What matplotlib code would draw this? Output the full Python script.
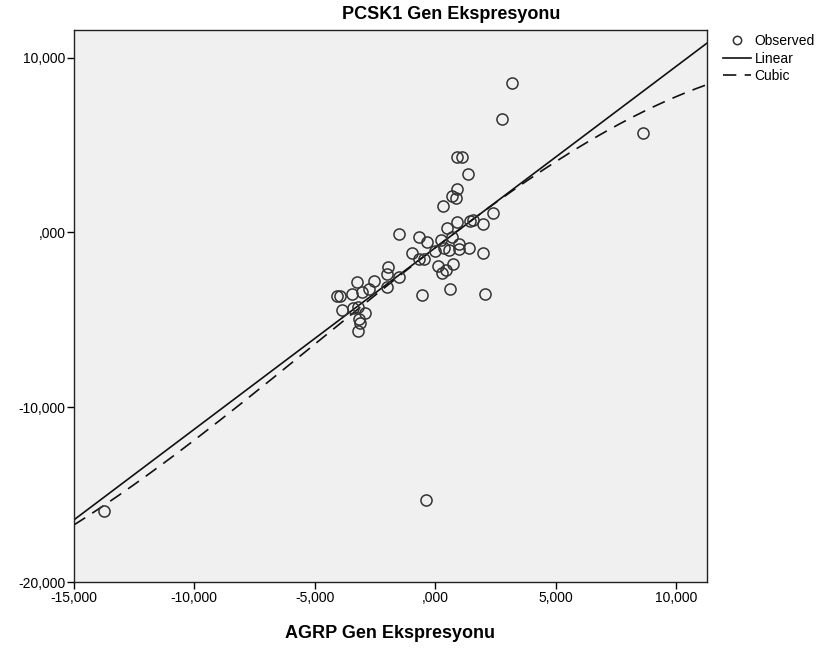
import matplotlib
matplotlib.use("Agg")
import matplotlib.pyplot as plt
import numpy as np
from matplotlib.ticker import FuncFormatter

plt.rcParams['font.family'] = ['Liberation Sans', 'DejaVu Sans']

# observed points (AGRP, PCSK1)
agrp = [3.21, 2.79, 0.90, 1.11, 1.38, 0.90, 0.69, 0.86, 0.32, 2.39,
        -1.50, 0.48, 0.90, 1.45, 1.56, 1.98, -0.66, -0.35, 0.25, 0.69,
        -0.97, 0.00, 0.38, 0.58, 1.01, 1.01, 1.42, 1.98, -0.67, -0.46,
        0.11, 0.45, 0.73, 0.30, -0.53, 0.61, 2.07, -1.50, -1.94, -2.01,
        -2.01, -2.54, -3.23, -2.75, -3.02, -3.46, -4.09, -3.95, -3.88, -3.40,
        -3.19, -2.91, -3.15, -3.12, -3.19, -13.74, -0.39, 8.62]
pcsk1 = [8.56, 6.49, 4.30, 4.30, 3.34, 2.47, 2.10, 1.95, 1.51, 1.13,
         -0.09, 0.27, 0.62, 0.66, 0.71, 0.47, -0.27, -0.56, -0.43, -0.24,
         -1.19, -1.04, -0.90, -1.00, -0.67, -0.96, -0.90, -1.19, -1.51, -1.51,
         -1.93, -2.14, -1.80, -2.33, -3.59, -3.23, -3.53, -2.53, -1.99, -2.37,
         -3.10, -2.75, -2.85, -3.23, -3.42, -3.51, -3.63, -3.61, -4.43, -4.33,
         -4.27, -4.62, -4.96, -5.19, -5.63, -15.95, -15.29, 5.70]

# fitted model coefficients (b0, b1, b2, b3)
linear_coef = [-0.881, 1.0366]
cubic_coef = [-0.881, 1.0627, -0.01175, -0.0008134]

x_ticks = [-15, -10, -5, 0, 5, 10]
y_ticks = [-20, -10, 0, 10]


def fmt(v, pos):
    s = f"{v:.3f}".replace('.', ',')
    if s.startswith('0,'):
        s = s[1:]
    if s.startswith('-0,'):
        s = s[2:]
    return s


fig = plt.figure(figsize=(8.35, 6.53), dpi=100)
ax = fig.add_axes([0.0886, 0.1083, 0.7578, 0.8457])
ax.set_facecolor('#f0f0f0')

xs = np.linspace(-15, 11.28, 300)
ylin = linear_coef[0] + linear_coef[1] * xs
ycub = cubic_coef[0] + cubic_coef[1] * xs + cubic_coef[2] * xs**2 + cubic_coef[3] * xs**3

ax.plot(agrp, pcsk1, 'o', mfc='none', mec='#333333', mew=1.1, ms=8,
        label='Observed', zorder=3)
ax.plot(xs, ylin, color='#111111', lw=1.2, label='Linear')
ax.plot(xs, ycub, color='#111111', lw=1.2, linestyle=(0, (8, 5)), label='Cubic')

ax.set_xlim(-15, 11.28)
ax.set_ylim(-20, 11.57)
ax.set_xticks(x_ticks)
ax.set_yticks(y_ticks)
ax.xaxis.set_major_formatter(FuncFormatter(fmt))
ax.yaxis.set_major_formatter(FuncFormatter(fmt))
ax.tick_params(direction='out', length=5, width=1, labelsize=10, colors='black', pad=1)
for sp in ax.spines.values():
    sp.set_linewidth(1)
    sp.set_color('#222222')

ax.set_xlabel('AGRP Gen Ekspresyonu', fontsize=13, fontweight='bold', labelpad=15)
fig.text(0.540, 0.978, 'PCSK1 Gen Ekspresyonu', ha='center', va='center',
         fontsize=13, fontweight='bold')

ax.legend(loc='upper left', bbox_to_anchor=(1.01, 1.01), frameon=False,
          fontsize=10, handlelength=2.0, handletextpad=0.3, labelspacing=0.25,
          borderaxespad=0.3, markerscale=0.75)

fig.savefig('out.png', dpi=100)
